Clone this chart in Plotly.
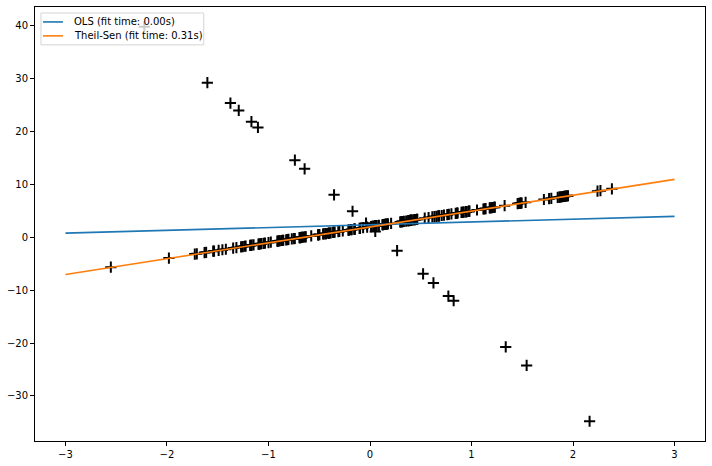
import plotly.graph_objects as go

# Scatter data (inliers along y ~ 3x + 2, outliers along y ~ -17x + 2)
x_vals = [
    1.764, 0.400, 0.979, 2.241, 1.868, -0.977, 0.950, -0.151, -0.103, 0.411,
    0.144, 1.454, 0.761, 0.122, 0.444, 0.334, 1.494, -0.205, 0.313, -0.854,
    -2.553, 0.654, 0.864, -0.742, 2.270, -1.454, 0.046, -0.187, 1.533, 1.469,
    0.155, 0.378, -0.888, -1.981, -0.348, 0.156, 1.230, 1.202, -0.387, -0.302,
    -1.049, -1.420, -1.706, 1.951, -0.510, -0.438, -1.253, 0.777, -1.614, -0.213,
    -0.895, 0.387, -0.511, -1.181, -0.028, 0.428, 0.067, 0.302, -0.634, -0.363,
    -0.672, -0.360, -0.813, -1.726, 0.177, -0.402, -1.630, 0.463, -0.907, 0.052,
    0.729, 0.129, 1.139, -1.235, 0.402, -0.685, -0.871, -0.579, -0.312, 0.056,
    -1.165, 0.901, 0.466, -1.536, 1.488, 1.896, 1.179, -0.180, -1.071, 1.054,
    -0.403, 1.222, 0.208, 0.977, 0.356, 0.707, 0.011, 1.786, 0.127, 0.402,
    1.883, -1.348, -1.270, 0.969, -1.173, 1.944, -0.414, -0.747, 1.923, 1.481,
    1.868, 0.906, -0.861, 1.910, -0.268, 0.802, 0.947, -0.155, 0.614, 0.922,
    0.376, -1.099, 0.298, 1.326, -0.695, -0.150, -0.435, 1.849, 0.672, 0.407,
    -0.770, 0.539, -0.674, 0.032, -0.636, 0.676, 0.577, -0.208, 0.396, -1.093,
    -1.491, 0.439, 0.167, 0.635, 2.383, 0.944, -0.913, 1.117, -1.316, -0.462,
    -0.068, 1.713, -0.745, -0.826, -0.098, -0.663, 1.127, -1.080, -1.147, -0.438,
    -0.498, 1.930, 0.949, 0.088, -1.225, 0.844, -1.000, -1.545, 1.188, 0.317,
    0.921, 0.319, 0.857, -0.651, -1.034, 0.682, -0.803, -0.690, -0.456, 0.017,
    -0.354, -1.375, -0.644, -2.223, 0.625, -1.602, -1.104, 0.052, -0.740, 1.543,
    -1.293, 0.267, -0.039, -1.168, 0.523, -0.172, 0.772, 0.824, 2.163, 1.337,
]
y_vals = [
    7.29, 3.20, 4.94, 8.72, 7.60, -0.93, 4.85, 1.55, 1.69, 3.23,
    2.43, 6.36, 4.28, 2.37, 3.33, 3.00, 6.48, 1.38, 2.94, -0.56,
    -5.66, 3.96, 4.59, -0.23, 8.81, -2.36, 2.14, 1.44, 6.60, 6.41,
    2.46, 3.13, -0.66, -3.94, 0.96, 2.47, 5.69, 5.61, 0.84, 1.09,
    -1.15, -2.26, -3.12, 7.85, 0.47, 0.69, -1.76, 4.33, -2.84, 1.36,
    -0.69, 3.16, 0.47, -1.54, 1.92, 3.28, 2.20, 2.91, 0.10, 0.91,
    -0.02, 0.92, -0.44, -3.18, 2.53, 0.79, -2.89, 3.39, -0.72, 2.16,
    4.19, 2.39, 5.42, -1.70, 3.21, -0.05, -0.61, 0.26, 1.07, 2.17,
    -1.50, 4.70, 3.40, -2.61, 6.46, 7.69, 5.54, 1.46, -1.21, 5.16,
    0.79, 5.67, 2.62, 4.93, 3.07, 4.12, 2.03, 7.36, 2.38, 3.21,
    7.65, -2.04, -1.81, 4.91, -1.52, 7.83, 0.76, -0.24, 7.77, 6.44,
    7.60, 4.72, -0.58, 7.73, 1.20, 4.41, 4.84, 1.53, 3.84, 4.77,
    3.13, -1.30, 2.89, 5.98, -0.08, 1.55, 0.70, 7.55, 4.02, 3.22,
    -0.31, 3.62, -0.02, 2.10, 0.09, 4.03, 3.73, 1.38, 3.19, -1.28,
    -2.47, 3.32, 2.50, 3.91, 9.15, 4.83, -0.74, 5.35, -1.95, 0.62,
    1.80, 7.14, -0.23, -0.48, 1.70, 0.01, 5.38, -1.24, -1.44, 0.69,
    0.51, 7.79, 4.85, 2.26, -1.68, 4.53, -1.00, -2.63, 5.56, 2.95,
    4.76, 2.96, 4.57, 0.05, -1.10, 4.04, -0.41, -0.07, 0.63, 2.05,
    8.02, 25.37, 12.94, 39.80, -8.63, 29.23, 20.77, 1.11, 14.57, -24.23,
    23.98, -2.54, 2.67, 21.86, -6.90, 4.92, -11.12, -12.00, -34.78, -20.72,
]

# Fitted lines (endpoints)
line_x = [-3.0, 3.0]
ols_y = [0.78, 3.96]
theil_y = [-7.05, 10.95]
ols_name = "OLS (fit time: 0.00s)"
theil_name = "Theil-Sen (fit time: 0.31s)"
ols_color = "#1f77b4"
theil_color = "#ff7f0e"

x_ticks = [-3, -2, -1, 0, 1, 2, 3]
y_ticks = [-30, -20, -10, 0, 10, 20, 30, 40]

fig = go.Figure()
fig.add_trace(go.Scatter(
    x=x_vals, y=y_vals, mode="markers", showlegend=False,
    marker=dict(symbol="cross-thin", size=8, color="black",
                line=dict(color="black", width=2)),
    hoverinfo="skip",
))
fig.add_trace(go.Scatter(x=line_x, y=ols_y, mode="lines", name=ols_name,
                         showlegend=False,
                         line=dict(color=ols_color, width=1.6)))
fig.add_trace(go.Scatter(x=line_x, y=theil_y, mode="lines", name=theil_name,
                         showlegend=False,
                         line=dict(color=theil_color, width=1.6)))

axis_common = dict(showgrid=False, zeroline=False, showline=True, mirror=True,
                   linecolor="black", linewidth=1, ticks="outside", ticklen=4,
                   tickcolor="black", tickfont=dict(size=10, color="black"))
fig.update_xaxes(range=[-3.3, 3.3], tickvals=x_ticks, **axis_common)
fig.update_yaxes(range=[-38.51, 43.53], tickvals=y_ticks, **axis_common)

# Legend box drawn in paper coordinates (matplotlib-style, upper left)
fig.add_shape(type="rect", xref="paper", yref="paper",
              x0=0.0089, x1=0.2519, y0=0.9128, y1=0.9862,
              line=dict(color="#d4d4d4", width=1),
              fillcolor="rgba(255,255,255,0.8)", layer="above")
legend_rows = [(ols_name, ols_color, 0.9656), (theil_name, theil_color, 0.9335)]
for name, color, yy in legend_rows:
    fig.add_shape(type="line", xref="paper", yref="paper",
                  x0=0.0119, x1=0.0417, y0=yy, y1=yy,
                  line=dict(color=color, width=1.6), layer="above")
    fig.add_annotation(xref="paper", yref="paper", x=0.0551, y=yy,
                       xanchor="left", yanchor="middle", text=name,
                       showarrow=False, font=dict(size=10, color="black"))

fig.update_layout(
    width=712, height=466,
    margin=dict(l=35, r=6, t=6, b=24),
    plot_bgcolor="white", paper_bgcolor="white",
    font=dict(family="DejaVu Sans", size=10, color="black"),
    showlegend=False,
)

fig.write_html("out.html")
